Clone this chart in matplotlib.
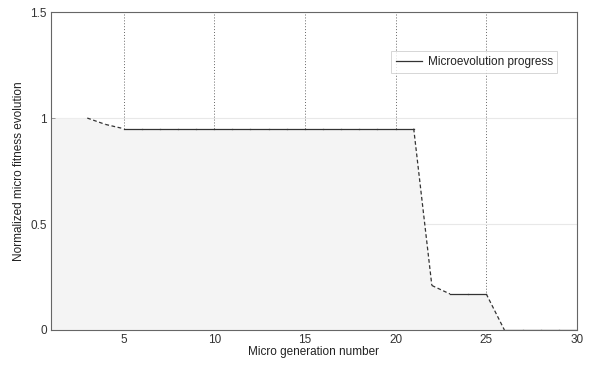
import numpy as np
import matplotlib
matplotlib.use('Agg')
import matplotlib.pyplot as plt
from matplotlib.lines import Line2D

# fitness of the best micro individual, per generation
generations = list(range(1, 31))
fitness = [1.0, 1.0, 1.0, 0.97, 0.95, 0.95, 0.95, 0.95, 0.95, 0.95,
           0.95, 0.95, 0.95, 0.95, 0.95, 0.95, 0.95, 0.95, 0.95, 0.95,
           0.95, 0.21, 0.17, 0.17, 0.17, 0.0, 0.0, 0.0, 0.0, 0.0]
line_start = 3  # progress line is drawn from generation 3 on

plt.rcParams['font.family'] = ['Liberation Sans', 'DejaVu Sans']
fig = plt.figure(figsize=(5.97, 3.66), dpi=100)
ax = fig.add_axes([0.0854, 0.0984, 0.881, 0.8686])

x = np.array(generations)
y = np.array(fitness)

ax.fill_between(x, 0, y, color='#f4f4f4', lw=0, zorder=1)

# flat parts solid, changing parts dashed
for i in range(line_start - 1, len(x) - 1):
    seg_x = x[i:i + 2]
    seg_y = y[i:i + 2]
    ls = '-' if seg_y[0] == seg_y[1] else (0, (3, 2))
    ax.plot(seg_x, seg_y, color='#333333', lw=0.9, ls=ls, zorder=3)

ax.set_xlim(1, 30)
ax.set_ylim(0, 1.5)
ax.set_xticks([5, 10, 15, 20, 25, 30])
ax.set_yticks([0, 0.5, 1, 1.5])
ax.set_yticklabels(['0', '0.5', '1', '1.5'])

ax.xaxis.grid(True, ls=(0, (1, 2)), color='#666666', lw=0.7, zorder=0.5)
ax.yaxis.grid(True, ls='-', color='#e8e8e8', lw=0.8, zorder=0.5)
ax.set_axisbelow(True)

for s in ax.spines.values():
    s.set_color('#666666')
    s.set_linewidth(0.8)
ax.tick_params(direction='in', length=3, width=0.6, labelsize=8.5,
               colors='#333333', pad=3)

ax.set_xlabel('Micro generation number', fontsize=8.5, color='#222222', labelpad=0)
ax.set_ylabel('Normalized micro fitness evolution', fontsize=8.5, color='#222222', labelpad=4)

handle = Line2D([], [], color='#333333', lw=0.9, ls='-')
leg = ax.legend([handle], ['Microevolution progress'], loc='upper right',
                bbox_to_anchor=(0.974, 0.895), fontsize=8.5,
                frameon=True, fancybox=False, handlelength=2.2, borderpad=0.4,
                handletextpad=0.5)
leg.get_frame().set_edgecolor('#cccccc')
leg.get_frame().set_linewidth(0.7)
for t in leg.get_texts():
    t.set_color('#222222')

fig.savefig('out.png', dpi=100)
